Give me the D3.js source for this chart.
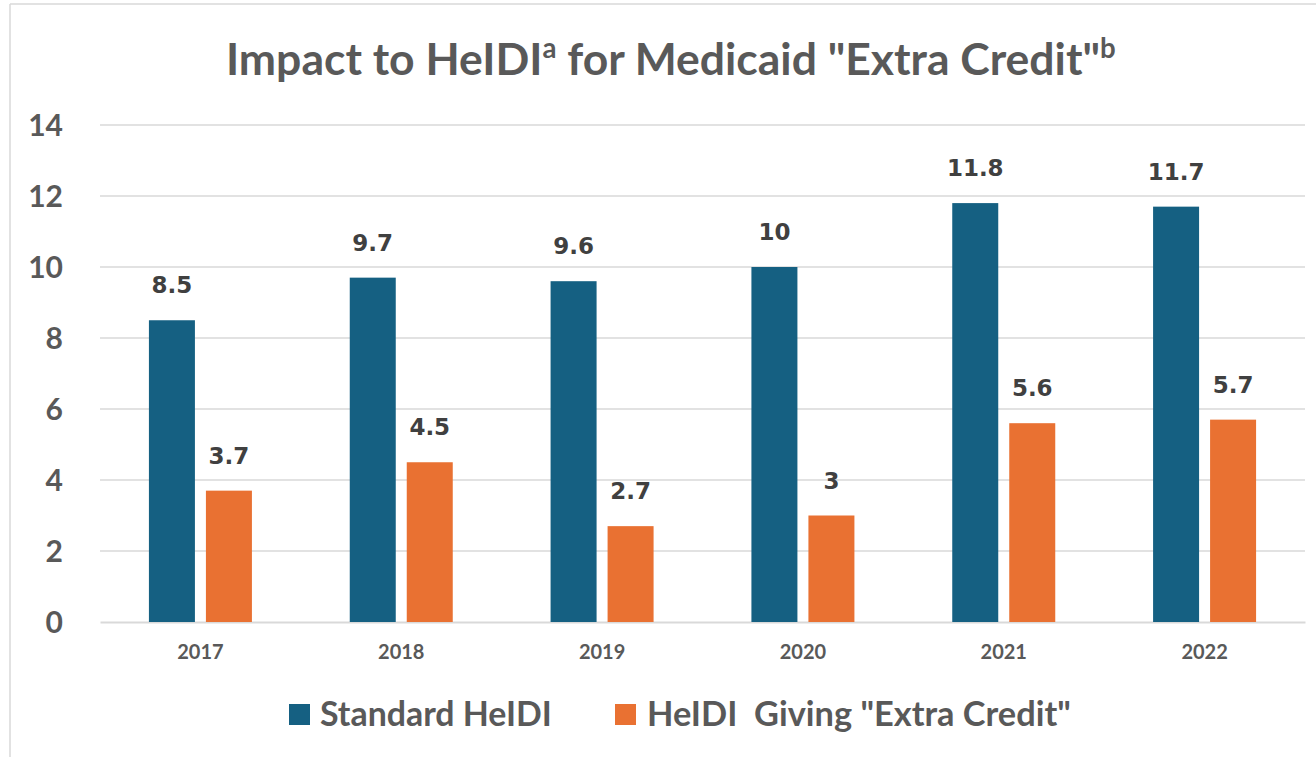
<!DOCTYPE html>
<html><head><meta charset="utf-8">
<script src="https://cdn.jsdelivr.net/npm/d3@7"></script>
<style>body{margin:0;background:#fff}svg{display:block}</style>
</head><body>
<svg id="c" width="1316" height="757"></svg>
<script>
const years = ["2017","2018","2019","2020","2021","2022"];
const seriesNames = ["Standard HeIDI", "HeIDI  Giving \"Extra Credit\""];
const standard = [8.5, 9.7, 9.6, 10, 11.8, 11.7];
const extraCredit = [3.7, 4.5, 2.7, 3, 5.6, 5.7];
const yTicks = [0, 2, 4, 6, 8, 10, 12, 14];
const colors = ["#156082", "#E97132"];

const svg = d3.select("#c");
const W = 1316, H = 757;
const m = {l: 100, r: 11, t: 125, b: 135};
const x = d3.scaleBand().domain(years).range([m.l, W - m.r]);
const sub = d3.scaleBand().domain([0,1]).range([0, 103]).paddingInner(0.193);
const y = d3.scaleLinear().domain([0, 14]).range([H - m.b, m.t]);
const LATO = "Lato, 'Open Sans', sans-serif";

function fit(sel, target){
  const n = sel.node(); const w = n.getComputedTextLength();
  const fs = parseFloat(sel.style("font-size"));
  sel.style("font-size", (fs * target / w) + "px");
}

// border
svg.append("line").attr("x1",10).attr("x2",10).attr("y1",4).attr("y2",H).attr("stroke","#d9d9d9").attr("stroke-width",1.5);
svg.append("line").attr("x1",10).attr("x2",W).attr("y1",4).attr("y2",4).attr("stroke","#d9d9d9").attr("stroke-width",1.5);

// gridlines
svg.append("g").selectAll("line").data(yTicks.slice(1)).join("line")
  .attr("x1", m.l).attr("x2", W - m.r)
  .attr("y1", d => y(d)).attr("y2", d => y(d))
  .attr("stroke", "#d9d9d9").attr("stroke-width", 1.5);

// y axis
const ya = svg.append("g").attr("transform", `translate(${63},0)`)
  .call(d3.axisLeft(y).tickValues(yTicks).tickSize(0).tickPadding(0));
ya.select(".domain").remove();
ya.selectAll("text").style("font-size", "30px").style("font-family", LATO).style("font-weight", "bold")
  .attr("fill", "#595959").attr("dy", "0.36em");

// x axis
const xa = svg.append("g").attr("transform", `translate(0,${y(0)})`)
  .call(d3.axisBottom(x).tickSize(0).tickPadding(23));
xa.select(".domain").attr("stroke", "#d9d9d9").attr("stroke-width", 2);
xa.selectAll("text").style("font-size", "20px").style("font-family", LATO).style("font-weight", "bold")
  .attr("fill", "#595959");

// bars
const data = years.map((yr, i) => ({yr, vals: [standard[i], extraCredit[i]]}));
const g = svg.append("g").selectAll("g").data(data).join("g")
  .attr("transform", d => `translate(${x(d.yr) + (x.bandwidth() - 103) / 2},0)`);
g.selectAll("rect").data(d => d.vals.map((v, k) => ({v, k}))).join("rect")
  .attr("x", d => sub(d.k)).attr("width", sub.bandwidth())
  .attr("y", d => y(d.v)).attr("height", d => y(0) - y(d.v))
  .attr("fill", d => colors[d.k]);
g.selectAll("text").data(d => d.vals.map((v, k) => ({v, k}))).join("text")
  .attr("x", d => sub(d.k) + sub.bandwidth() / 2).attr("y", d => y(d.v) - 27)
  .attr("text-anchor", "middle")
  .style("font-size", "23px").style("font-family", "'DejaVu Sans', Verdana, sans-serif").style("font-weight", "bold")
  .attr("fill", "#404040").text(d => d.v);

// title
const t = svg.append("text").attr("x", 226).attr("y", 75)
  .style("font-size", "44px").style("font-family", LATO).style("font-weight", "bold").attr("fill", "#595959");
t.append("tspan").text("Impact to HeIDI");
t.append("tspan").style("font-size", "0.62em").attr("dy", "-0.6em").text("a");
t.append("tspan").attr("dy", "0.372em").text(" for Medicaid \"Extra Credit\"");
t.append("tspan").style("font-size", "0.62em").attr("dy", "-0.6em").text("b");
fit(t, 890);

// legend
const lx = [289, 615], tx = [320, 647], tw = [232, 424];
seriesNames.forEach((s, k) => {
  svg.append("rect").attr("x", lx[k]).attr("y", 704).attr("width", 21).attr("height", 21).attr("fill", colors[k]);
  const lt = svg.append("text").attr("x", tx[k]).attr("y", 726)
    .style("font-size", "34px").style("font-family", LATO).style("font-weight", "bold").style("white-space", "pre")
    .attr("fill", "#595959").text(s);
  fit(lt, tw[k]);
});
</script>
</body></html>
